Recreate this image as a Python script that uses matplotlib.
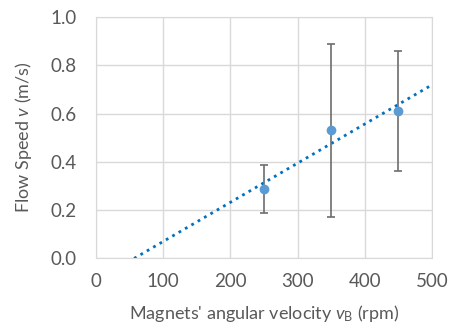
import numpy as np
import matplotlib
matplotlib.use("Agg")
import matplotlib.pyplot as plt

# data
speed_rpm = [250, 350, 450]
flow_speed = [0.285, 0.53, 0.61]
err_low = [0.185, 0.17, 0.36]
err_high = [0.385, 0.89, 0.86]

x_ticks = [0, 100, 200, 300, 400, 500]
y_ticks = [0.0, 0.2, 0.4, 0.6, 0.8, 1.0]

plt.rcParams['font.family'] = ['Lato', 'DejaVu Sans']
plt.rcParams['mathtext.fontset'] = 'custom'
plt.rcParams['mathtext.rm'] = 'Lato'
plt.rcParams['mathtext.it'] = 'Lato:italic'

txt = '#595959'
grid = '#d9d9d9'

fig = plt.figure(figsize=(4.57, 3.30), dpi=100)
ax = fig.add_axes([0.21, 0.218, 0.735, 0.73])

y = np.array(flow_speed)
yerr = [y - np.array(err_low), np.array(err_high) - y]
ax.errorbar(speed_rpm, y, yerr=yerr, fmt='o', color='#5b9bd5', ms=6,
            ecolor='#6d6d6d', elinewidth=1.2, capsize=3, capthick=1.2, zorder=3)

# linear trendline
m, b = np.polyfit(speed_rpm, flow_speed, 1)
xt = np.array([0, 500])
ax.plot(xt, m * xt + b, ':', color='#0070c0', lw=2, zorder=2)

ax.set_xlim(0, 500)
ax.set_ylim(0, 1.0)
ax.set_xticks(x_ticks)
ax.set_yticks(y_ticks)
ax.set_yticklabels(['{:.1f}'.format(v) for v in y_ticks])
ax.grid(True, color=grid, lw=1)
ax.set_axisbelow(True)
for s in ax.spines.values():
    s.set_color(grid)
ax.tick_params(length=0, labelsize=13.5, colors=txt)
ax.tick_params(axis='y', pad=14)
ax.tick_params(axis='x', pad=11)
ax.set_xlabel("Magnets' angular velocity $v_\\mathrm{B}$ (rpm)", fontsize=13, color=txt, labelpad=9)
ax.set_ylabel("Flow Speed $v$ (m/s)", fontsize=13, color=txt, labelpad=12)

fig.savefig('out.png', dpi=100)
